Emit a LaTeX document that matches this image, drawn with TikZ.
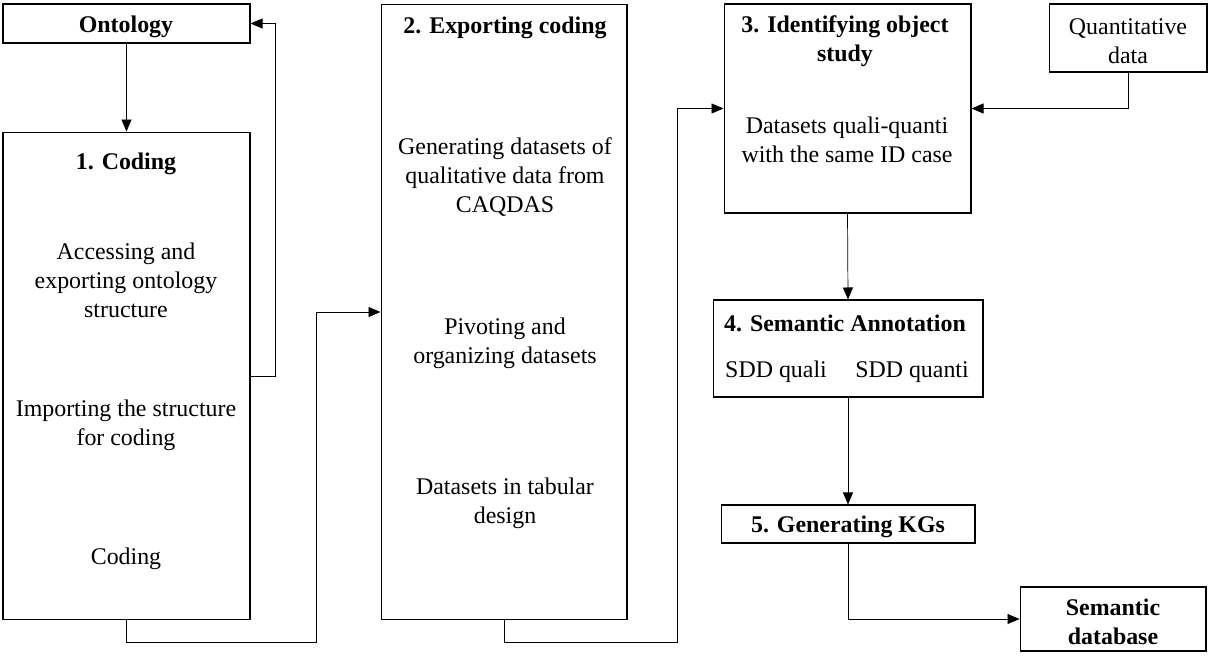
\documentclass[tikz,border=0pt]{standalone}
\usepackage{fontspec}
\setmainfont{Liberation Serif}
\usepackage{tikz}
\usetikzlibrary{positioning}
\usetikzlibrary{shapes,arrows,calc,arrows.meta}

\begin{document}
\begin{tikzpicture}[x=0.02cm,y=-0.02cm,
   font=\fontsize{13.6}{16.5}\selectfont,
   box/.style={draw,rectangle,line width=0.6pt,inner sep=0pt},
   txt/.style={align=center,inner sep=0pt,yshift=-0.06cm},
   hd/.style={txt,font=\fontsize{13.6}{16.5}\selectfont\bfseries},
   >={Triangle[length=0.24cm,width=0.2cm]}]
   \useasboundingbox (0,0) rectangle (1209,663);
   % boxes
   \node[box,minimum width=4.94cm,minimum height=0.78cm] (onto) at (126.5,23.5) {};
   \node[box,minimum width=4.94cm,minimum height=9.76cm] (coding) at (126.5,376) {};
   \node[box,minimum width=4.92cm,minimum height=12.32cm] (export) at (504,312) {};
   \node[box,minimum width=4.94cm,minimum height=4.18cm] (ident) at (847.5,108.5) {};
   \node[box,minimum width=3.16cm,minimum height=1.36cm] (quant) at (1128,38) {};
   \node[box,minimum width=5.4cm,minimum height=1.94cm] (annot) at (848,348.5) {};
   \node[box,minimum width=5.08cm,minimum height=0.76cm] (kgs) at (848,524) {};
   \node[box,minimum width=3.72cm,minimum height=1.28cm] (db) at (1113,619) {};
   % texts
   \node[hd] (ontoT) at (126,24) {Ontology};
   \node[hd] (codingT) at (126,161) {1. Coding};
   \node[txt] (codingA) at (126,277) {Accessing and\\exporting ontology\\structure};
   \node[txt] (codingB) at (126,422) {Importing the structure\\for coding};
   \node[txt] (codingC) at (126,556) {Coding};
   \node[hd] (exportT) at (505,25) {2. Exporting coding};
   \node[txt] (exportA) at (505,174) {Generating datasets of\\qualitative data from\\CAQDAS};
   \node[txt] (exportB) at (505,340) {Pivoting and\\organizing datasets};
   \node[txt] (exportC) at (505,500) {Datasets in tabular\\design};
   \node[hd] (identT) at (845,38) {3. Identifying object\\study};
   \node[txt] (identA) at (847,137) {Datasets quali-quanti\\with the same ID case};
   \node[txt] (quantT) at (1128,38) {Quantitative\\data};
   \node[hd] (annotT) at (845,320) {4. Semantic Annotation};
   \node[txt] (sddA) at (776,369) {SDD quali};
   \node[txt] (sddB) at (912,369) {SDD quanti};
   \node[hd] (kgsT) at (848,524) {5. Generating KGs};
   \node[hd] (dbT) at (1113,619) {Semantic\\database};
   % bends
   \coordinate (loopR) at (275,376);
   \coordinate (bendA) at (316,642);
   \coordinate (bendB) at (677,642);
   % connectors
   \draw[->] (onto.south) -- (coding.north);
   \draw[->] (coding.east) -- (loopR) |- (onto.east);
   \draw[->] (coding.south) |- (bendA) |- (export.west);
   \draw[->] (export.south) |- (bendB) |- (ident.west);
   \draw[->] (quant.south) |- (ident.east);
   \draw[->] (ident.south) -- (annot.north);
   \draw[->] (annot.south) -- (kgs.north);
   \draw[->] (kgs.south) |- (db.west);
\end{tikzpicture}
\end{document}
